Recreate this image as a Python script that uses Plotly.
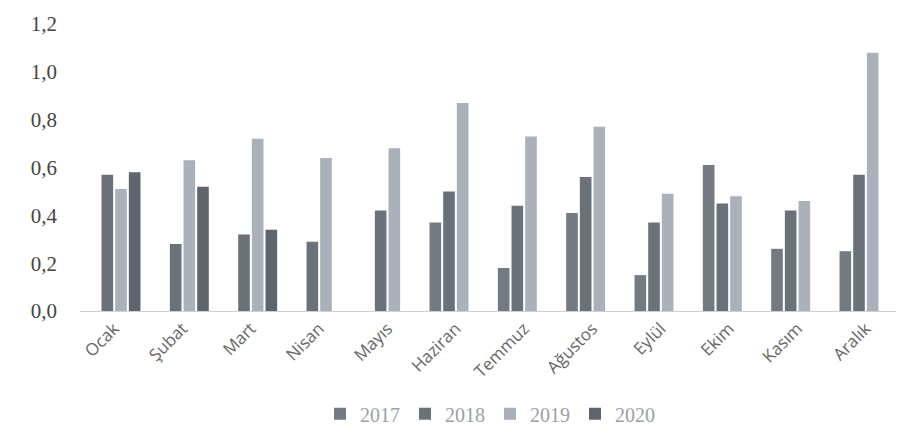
import plotly.graph_objects as go

months = ["Ocak", "Şubat", "Mart", "Nisan", "Mayıs", "Haziran", "Temmuz",
          "Ağustos", "Eylül", "Ekim", "Kasım", "Aralık"]
y2017 = [None, None, None, None, None, 0.37, 0.18, 0.41, 0.15, 0.61, 0.26, 0.25]
y2018 = [0.57, 0.28, 0.32, 0.29, 0.42, 0.50, 0.44, 0.56, 0.37, 0.45, 0.42, 0.57]
y2019 = [0.51, 0.63, 0.72, 0.64, 0.68, 0.87, 0.73, 0.77, 0.49, 0.48, 0.46, 1.08]
y2020 = [0.58, 0.52, 0.34, None, None, None, None, None, None, None, None, None]
series_names = ["2017", "2018", "2019", "2020"]
colors = ["#737a82", "#6a7179", "#aab1bb", "#5f656c"]

fig = go.Figure()
for name, vals, col in zip(series_names, [y2017, y2018, y2019, y2020], colors):
    fig.add_trace(go.Bar(x=months, y=vals, name=name, marker_color=col,
                         marker_line_width=0))

fig.update_layout(
    width=904, height=443,
    paper_bgcolor="white", plot_bgcolor="white",
    separators=",.",
    margin=dict(l=72, r=12, t=16, b=140),
    barmode="group", bargap=0.2, bargroupgap=0.15,
    showlegend=True,
    legend=dict(orientation="h", x=0.5, xanchor="center", y=-0.29, yanchor="top",
                font=dict(family="Liberation Serif", size=20, color="#9aa0a8"),
                itemwidth=30, tracegroupgap=0, traceorder="normal"),
)
fig.update_yaxes(range=[0, 1.2], dtick=0.2, tickformat=".1f", showgrid=False,
                 zeroline=False, showline=False, ticks="", automargin=False,
                 tickfont=dict(family="Liberation Serif", size=21, color="#444"),
                 ticklabelstandoff=22)
fig.update_xaxes(showline=True, linecolor="#d0d0d0", linewidth=1, ticks="",
                 tickangle=-45, automargin=False,
                 tickfont=dict(family="Open Sans", size=17, color="#666"))

fig.write_html("out.html")
